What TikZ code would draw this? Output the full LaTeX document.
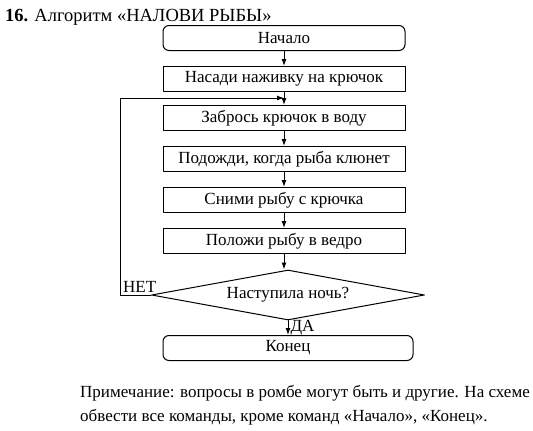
\documentclass[tikz,border=0pt]{standalone}
\usepackage{fontspec}
\setmainfont{Liberation Serif}
\usetikzlibrary{shapes.geometric,arrows.meta}
\begin{document}
\begin{tikzpicture}[x=1pt,y=-1pt,line cap=round,line join=round,
  blok/.style={draw,line width=1pt,minimum width=242pt,minimum height=25pt,inner sep=0pt,font=\fontsize{17}{20}\selectfont},
  kraj/.style={blok,rounded corners=6pt},
  usl/.style={draw,diamond,shape aspect=5.46,line width=1pt,minimum width=273pt,minimum height=50pt,inner sep=0pt,font=\fontsize{17}{20}\selectfont},
  strelka/.style={-{Latex[length=7pt,width=5pt]},line width=1pt},
  metka/.style={font=\fontsize{17}{20}\selectfont,inner sep=0pt}]
\useasboundingbox (0,0) rectangle (533,431);

\node[anchor=base west,metka,font=\fontsize{18.5}{22}\selectfont] (zag) at (5,21) {\textbf{16.} Алгоритм «НАЛОВИ РЫБЫ»};

\node[kraj] (nach) at (284,38) {Начало};
\node[blok] (nasadi) at (284,79) {Насади наживку на крючок};
\node[blok] (zabros) at (284,118) {Забрось крючок в воду};
\node[blok] (podozhdi) at (284,159) {Подожди, когда рыба клюнет};
\node[blok] (snimi) at (284,200) {Сними рыбу с крючка};
\node[blok] (polozhi) at (284,241) {Положи рыбу в ведро};
\node[usl] (noch) at (288,295) {Наступила ночь?};
\node[kraj,minimum width=250pt] (konec) at (288,348) {Конец};

\coordinate (vozvrat) at (284,98);
\coordinate (ugol) at (120,295);

\draw [strelka] (nach) -- (nasadi);
\draw [strelka] (nasadi) -- (zabros);
\draw [strelka] (zabros) -- (podozhdi);
\draw [strelka] (podozhdi) -- (snimi);
\draw [strelka] (snimi) -- (polozhi);
\draw [strelka] (polozhi) -- (polozhi.south |- noch.north);
\draw [strelka] (noch.south) -- (noch.south |- konec.north) node[pos=0.5,right=2pt,metka] {ДА};
\draw [strelka] (noch.west) -- (ugol) |- (vozvrat);
\node[anchor=south west,metka] (net) at ([shift={(3,-2)}]ugol) {НЕТ};

\node[anchor=base west,metka] (prim) at (80,397) {Примечание: вопросы в ромбе могут быть и другие. На схеме};
\node[anchor=base west,metka] (prim2) at (80,421) {обвести все команды, кроме команд «Начало», «Конец».};
\end{tikzpicture}
\end{document}
